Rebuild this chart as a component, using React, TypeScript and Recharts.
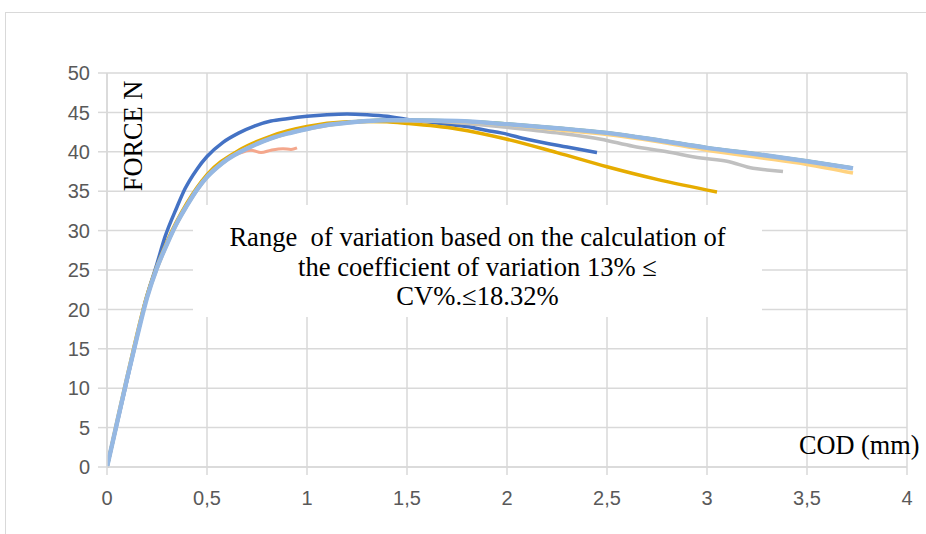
import { CartesianGrid, Line, LineChart, XAxis, YAxis } from "recharts";

const xTicks = [0, 0.5, 1, 1.5, 2, 2.5, 3, 3.5, 4];
const yTicks = [0, 5, 10, 15, 20, 25, 30, 35, 40, 45, 50];

// specimen curves: COD (mm) vs force (N)
const blueCod = [0, 0.05, 0.1, 0.15, 0.19, 0.25, 0.29, 0.35, 0.39, 0.45, 0.5, 0.58, 0.66, 0.74, 0.82, 0.9, 1.0, 1.1, 1.2, 1.3, 1.4, 1.5, 1.6, 1.7, 1.8, 1.9, 1.97, 2.1, 2.3, 2.45];
const blueForce = [0, 5.5, 11, 16.5, 20.8, 25.8, 29.2, 33.0, 35.3, 37.8, 39.4, 41.2, 42.4, 43.3, 43.9, 44.2, 44.5, 44.7, 44.8, 44.7, 44.5, 44.1, 43.8, 43.5, 43.2, 42.7, 42.4, 41.6, 40.6, 39.9];

const salmonCod = [0, 0.1, 0.2, 0.3, 0.4, 0.5, 0.6, 0.66, 0.72, 0.77, 0.82, 0.88, 0.92, 0.95];
const salmonForce = [0, 11.2, 21.5, 28.3, 33.2, 36.8, 39.1, 39.8, 40.2, 39.9, 40.2, 40.4, 40.3, 40.5];

const grayCod = [0, 0.1, 0.2, 0.3, 0.4, 0.5, 0.6, 0.75, 0.9, 1.0, 1.2, 1.5, 1.75, 2.0, 2.25, 2.47, 2.63, 2.8, 2.97, 3.1, 3.23, 3.3, 3.38];
const grayForce = [0, 11.2, 21.5, 28.3, 33.2, 36.8, 39, 41, 42.3, 42.9, 43.7, 44.0, 43.7, 43.1, 42.4, 41.6, 40.7, 40.0, 39.2, 38.8, 37.9, 37.7, 37.5];

const goldCod = [0, 0.1, 0.2, 0.3, 0.4, 0.5, 0.66, 0.82, 1.0, 1.2, 1.3, 1.4, 1.5, 1.75, 2.0, 2.25, 2.5, 2.75, 3.05];
const goldForce = [0, 11.4, 21.8, 28.6, 33.5, 37.1, 40.2, 42.0, 43.2, 43.8, 43.85, 43.8, 43.6, 42.9, 41.6, 39.9, 38.1, 36.5, 34.9];

const paleGoldCod = [0, 0.1, 0.2, 0.3, 0.4, 0.5, 0.6, 0.75, 0.9, 1.0, 1.2, 1.4, 1.75, 2.0, 2.25, 2.5, 2.75, 3.0, 3.25, 3.5, 3.73];
const paleGoldForce = [0, 11.2, 21.5, 28.3, 33.2, 36.8, 39, 41, 42.3, 42.9, 43.7, 44.0, 43.8, 43.4, 42.8, 42.2, 41.3, 40.2, 39.3, 38.4, 37.3];

const greenCod = [0, 0.1, 0.2, 0.3, 0.4, 0.5, 0.6, 0.75, 0.9, 1.0, 1.2, 1.4, 1.75, 2.0, 2.25, 2.5, 2.75, 3.0, 3.25, 3.5, 3.73];
const greenForce = [0, 11.3, 21.6, 28.4, 33.3, 36.9, 39.1, 41.1, 42.4, 43.0, 43.8, 44.15, 44.05, 43.65, 43.15, 42.55, 41.65, 40.65, 39.85, 38.95, 38.05];

const lightBlueCod = [0, 0.05, 0.1, 0.15, 0.2, 0.25, 0.3, 0.35, 0.4, 0.45, 0.5, 0.55, 0.6, 0.66, 0.75, 0.82, 0.9, 1.0, 1.1, 1.2, 1.3, 1.4, 1.5, 1.75, 2.0, 2.25, 2.5, 2.75, 3.0, 3.25, 3.5, 3.73];
const lightBlueForce = [0, 5.6, 11.2, 16.5, 21.5, 25.3, 28.3, 31, 33.2, 35.2, 36.8, 38, 39, 39.9, 41, 41.7, 42.3, 42.9, 43.4, 43.7, 43.9, 44.0, 44.0, 43.9, 43.5, 43.0, 42.4, 41.5, 40.5, 39.7, 38.8, 37.9];

const toPoints = (xs: number[], ys: number[]) => xs.map((x, i) => ({ x, y: ys[i] }));

const series = [
  { name: "blue", color: "#4472C4", width: 3.5, data: toPoints(blueCod, blueForce) },
  { name: "salmon", color: "#F4A78C", width: 3, data: toPoints(salmonCod, salmonForce) },
  { name: "gray", color: "#C0C0C0", width: 3.5, data: toPoints(grayCod, grayForce) },
  { name: "gold", color: "#E6AC00", width: 3.5, data: toPoints(goldCod, goldForce) },
  { name: "paleGold", color: "#FFD27F", width: 3.5, data: toPoints(paleGoldCod, paleGoldForce) },
  { name: "green", color: "#70AD47", width: 1.5, data: toPoints(greenCod, greenForce) },
  { name: "lightBlue", color: "#95B8E3", width: 4.5, data: toPoints(lightBlueCod, lightBlueForce) }
];

const serif = "'Liberation Serif', 'Times New Roman', serif";
const tickStyle = { fill: "#595959", fontSize: 20, fontFamily: "'Liberation Sans', Arial, sans-serif" };

export default function App() {
  return (
    <div style={{ position: "absolute", left: 0, top: 0, width: 926, height: 534, background: "#fff", overflow: "hidden" }}>
      <div style={{ position: "absolute", left: 5, top: 12, width: 950, height: 560, border: "1.5px solid #d9d9d9" }} />
      <LineChart
        width={926}
        height={534}
        margin={{ top: 73, right: 19, bottom: 37, left: 57 }}
        style={{ position: "absolute", left: 0, top: 0 }}
      >
        <CartesianGrid stroke="#d9d9d9" strokeWidth={1.5} />
        <XAxis
          type="number"
          dataKey="x"
          domain={[0, 4]}
          ticks={xTicks}
          allowDataOverflow
          tickFormatter={(v: number) => String(v).replace(".", ",")}
          height={30}
          tickSize={8}
          tickMargin={16}
          axisLine={{ stroke: "#d9d9d9", strokeWidth: 1.5 }}
          tickLine={{ stroke: "#d9d9d9", strokeWidth: 1.5 }}
          tick={tickStyle}
        />
        <YAxis
          type="number"
          dataKey="y"
          domain={[0, 50]}
          ticks={yTicks}
          width={50}
          tickSize={9}
          tickMargin={8}
          axisLine={{ stroke: "#d9d9d9", strokeWidth: 1.5 }}
          tickLine={{ stroke: "#d9d9d9", strokeWidth: 1.5 }}
          tick={tickStyle}
        />
        {series.map((s) => (
          <Line
            key={s.name}
            data={s.data}
            dataKey="y"
            type="monotone"
            stroke={s.color}
            strokeWidth={s.width}
            dot={false}
            activeDot={false}
            isAnimationActive={false}
          />
        ))}
      </LineChart>
      <div
        style={{
          position: "absolute",
          left: 134,
          top: 136,
          transform: "translate(-50%, -50%) rotate(-90deg)",
          whiteSpace: "nowrap",
          fontFamily: serif,
          fontSize: 26.3,
          lineHeight: "28px",
          color: "#000"
        }}
      >
        FORCE N
      </div>
      <div
        style={{
          position: "absolute",
          left: 193,
          top: 205,
          width: 569,
          height: 112,
          background: "#fff",
          boxSizing: "border-box",
          paddingTop: 18,
          textAlign: "center",
          fontFamily: serif,
          fontSize: 26.6,
          lineHeight: "29.5px",
          color: "#000",
          whiteSpace: "pre"
        }}
      >
        <div>Range  of variation based on the calculation of</div>
        <div>the coefficient of variation 13% ≤</div>
        <div>CV%.≤18.32%</div>
      </div>
      <div
        style={{
          position: "absolute",
          left: 799,
          top: 431,
          whiteSpace: "nowrap",
          fontFamily: serif,
          fontSize: 26.3,
          lineHeight: "30px",
          color: "#000"
        }}
      >
        COD (mm)
      </div>
    </div>
  );
}
